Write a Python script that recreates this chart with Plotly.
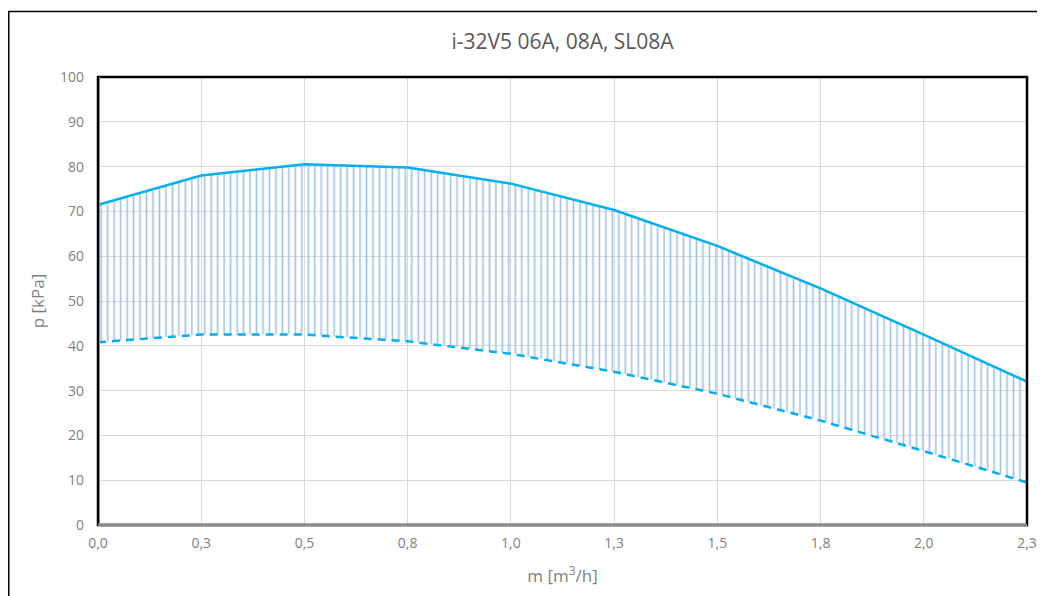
import plotly.graph_objects as go

# Data
flow = [0.0, 0.25, 0.5, 0.75, 1.0, 1.25, 1.5, 1.75, 2.0, 2.25]
p_max = [71.5, 78.0, 80.5, 79.8, 76.2, 70.3, 62.3, 52.8, 42.5, 32.0]
p_min = [40.8, 42.5, 42.5, 41.0, 38.2, 34.2, 29.3, 23.3, 16.5, 9.5]
x_ticks = [0.0, 0.25, 0.5, 0.75, 1.0, 1.25, 1.5, 1.75, 2.0, 2.25]
x_ticklabels = ["0,0", "0,3", "0,5", "0,8", "1,0", "1,3", "1,5", "1,8", "2,0", "2,3"]
y_ticks = list(range(0, 101, 10))

LINE = "#00B0F0"
HATCH = "#9DC3E6"
TXT = "#7F7F7F"
FONT = "Open Sans, Lato, sans-serif"

fig = go.Figure()
fig.add_trace(go.Scatter(
    x=flow, y=p_min, mode="lines",
    line=dict(color=LINE, width=2.5, dash="8px,6px"),
    hoverinfo="skip", showlegend=False,
))
fig.add_trace(go.Scatter(
    x=flow, y=p_max, mode="lines",
    line=dict(color=LINE, width=2.5),
    fill="tonexty", fillcolor="rgba(0,0,0,0)",
    fillpattern=dict(shape="|", fgcolor=HATCH, bgcolor="rgba(0,0,0,0)",
                     size=6.47, solidity=0.25, fillmode="replace"),
    hoverinfo="skip", showlegend=False,
))

# the page body adds an 8px offset; figure sized to fill the rest of the window
W, H = 1037, 588
L, R, T, B = 90, 18, 69, 71
pw, ph = W - L - R, H - T - B

def px_x(p):
    return (p - L) / pw

def px_y(p):
    return (H - B - p) / ph

fig.update_layout(
    width=W, height=H,
    margin=dict(l=L, r=R, t=T, b=B, autoexpand=False),
    paper_bgcolor="white", plot_bgcolor="white",
    font=dict(family=FONT, color=TXT, size=14),
    title=dict(text="i-32V5 06A, 08A, SL08A", x=0.5, xref="paper", xanchor="center",
               y=1 - 34 / H, yanchor="middle",
               font=dict(family=FONT, size=21, color="#595959")),
    xaxis=dict(
        range=[0, 2.25], tickvals=x_ticks, ticktext=x_ticklabels,
        showgrid=True, gridcolor="#D9D9D9", gridwidth=1,
        zeroline=False, showline=False, ticks="", ticklabelstandoff=8,
        tickfont=dict(size=14, color=TXT),
        title=dict(text="m [m<sup>3</sup>/h]", font=dict(size=17, color=TXT), standoff=19),
    ),
    yaxis=dict(
        range=[0, 100], tickvals=y_ticks,
        showgrid=True, gridcolor="#D9D9D9", gridwidth=1,
        zeroline=False, showline=False, ticks="", ticklabelstandoff=13,
        tickfont=dict(size=14, color=TXT),
        title=dict(text="p [kPa]", font=dict(size=17, color=TXT), standoff=11),
    ),
    shapes=[
        # outer chart border
        dict(type="rect", xref="paper", yref="paper",
             x0=px_x(0.75), x1=px_x(1060), y0=px_y(620), y1=px_y(3.5),
             line=dict(color="#000000", width=1.5), layer="below"),
        # plot area frame
        dict(type="rect", xref="paper", yref="paper",
             x0=0, x1=1, y0=0, y1=1,
             line=dict(color="#000000", width=2.5), layer="above"),
        # left gray axis line
        dict(type="line", xref="paper", yref="paper",
             x0=px_x(L + 1.5), x1=px_x(L + 1.5), y0=0, y1=1,
             line=dict(color="#898989", width=1), layer="above"),
        # bottom gray axis line
        dict(type="line", xref="paper", yref="paper",
             x0=0, x1=1, y0=0, y1=0,
             line=dict(color="#8C8C8C", width=3), layer="above"),
    ],
)

fig.write_html("out.html")
